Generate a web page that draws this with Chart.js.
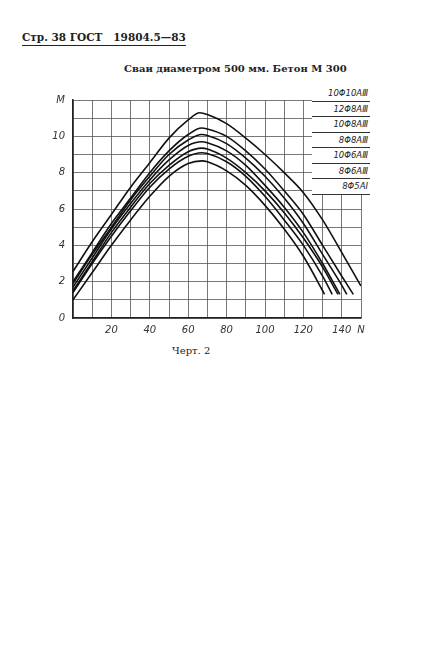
<!DOCTYPE html><html><head><meta charset="utf-8">
<script src="https://cdn.jsdelivr.net/npm/chart.js@4"></script>
<style>body{margin:0;width:431px;height:645px;background:#fff;position:relative;font-family:"DejaVu Serif",serif;color:#222}
.t{position:absolute;white-space:nowrap}
#lg{position:absolute;left:312px;top:86px;width:58px;background:#fff;font-family:"DejaVu Sans";font-style:italic;font-size:8.5px}
#lg div{border-bottom:1px solid #333;height:14.5px;line-height:14px;text-align:right;padding-right:2px}
</style></head><body>
<div class="t" style="left:22px;top:31px;font-size:10.5px;font-weight:bold;border-bottom:1.5px solid #222;padding-bottom:2px">Стр. 38 ГОСТ &nbsp; 19804.5—83</div>
<div class="t" style="left:124px;top:63px;font-size:10px;font-weight:bold">Сваи диаметром 500 мм. Бетон М 300</div>
<div class="t" style="left:172px;top:345px;font-size:10px">Черт. 2</div>
<canvas id="c" width="323" height="254" style="position:absolute;left:50px;top:86px"></canvas>
<div id="lg"></div>
<script>
const labels=["10Φ10AⅢ","12Φ8AⅢ","10Φ8AⅢ","8Φ8AⅢ","10Φ6AⅢ","8Φ6AⅢ","8Φ5AⅠ"];
const N1=[0,10,20,30,40,50,60,66,70,80,90,100,110,120,130,140,150];
const M1=[2.56,4.2,5.7,7.2,8.55,9.9,10.9,11.3,11.2,10.7,9.9,9.0,8.0,6.9,5.4,3.6,1.76];
const N2=[0,10,20,30,40,50,60,67,70,80,90,100,110,120,130,140,146];
const M2=[2.0,3.6,5.2,6.6,8.0,9.2,10.1,10.46,10.4,10.0,9.2,8.2,7.0,5.7,4.0,2.3,1.3];
const N3=[0,10,20,30,40,50,60,67,70,80,90,100,110,120,130,140,142.6];
const M3=[1.9,3.5,5.0,6.5,7.8,9.0,9.8,10.1,10.05,9.6,8.8,7.8,6.6,5.2,3.5,1.8,1.3];
const N4=[0,10,20,30,40,50,60,67,70,80,90,100,110,120,130,139];
const M4=[1.7,3.3,4.9,6.3,7.6,8.7,9.5,9.7,9.65,9.2,8.4,7.3,6.1,4.7,3.0,1.3];
const N5=[0,10,20,30,40,50,60,67,70,80,90,100,110,120,130,138];
const M5=[1.5,3.1,4.7,6.1,7.4,8.4,9.15,9.35,9.3,8.8,8.0,7.0,5.8,4.4,2.8,1.3];
const N6=[0,10,20,30,40,50,60,67,70,80,90,100,110,120,130,135];
const M6=[1.4,3.0,4.5,5.9,7.2,8.2,8.9,9.1,9.05,8.6,7.8,6.7,5.4,4.0,2.3,1.3];
const N7=[0,10,20,30,40,50,60,67,70,80,90,100,110,120,130,131];
const M7=[1.0,2.5,4.0,5.4,6.7,7.8,8.5,8.65,8.6,8.1,7.3,6.2,4.9,3.4,1.5,1.3];
const Ns=[N1,N2,N3,N4,N5,N6,N7],Ms=[M1,M2,M3,M4,M5,M6,M7];
const xTicks={20:"20",40:"40",60:"60",80:"80",100:"100",120:"120",140:"140",150:"N"};
const yTicks={0:"0",2:"2",4:"4",6:"6",8:"8",10:"10",12:"M"};
document.getElementById('lg').innerHTML=labels.map(l=>'<div>'+l+'</div>').join('');
const tf={family:"DejaVu Sans",style:"italic",size:10};
new Chart(document.getElementById('c'),{type:'line',
data:{datasets:Ns.map((n,i)=>({label:labels[i],data:n.map((x,j)=>({x,y:Ms[i][j]})),borderColor:'#111',borderWidth:1.6,pointRadius:0,cubicInterpolationMode:'monotone',fill:false}))},
options:{responsive:false,animation:false,layout:{padding:{top:6,right:12}},plugins:{legend:{display:false},tooltip:{enabled:false}},
scales:{x:{type:'linear',min:0,max:150,afterFit:s=>{s.height=22},border:{color:'#222',width:1.5},grid:{color:'#555',lineWidth:0.8,drawTicks:false},
ticks:{stepSize:10,autoSkip:false,maxRotation:0,minRotation:0,padding:6,color:'#333',font:tf,callback:v=>xTicks[v]||''}},
y:{min:0,max:12,afterFit:s=>{s.width=23},border:{color:'#222',width:1.5},grid:{color:'#555',lineWidth:0.8,drawTicks:false},
ticks:{stepSize:1,autoSkip:false,padding:8,color:'#333',font:tf,callback:v=>yTicks[v]||''}}}}});
</script></body></html>
